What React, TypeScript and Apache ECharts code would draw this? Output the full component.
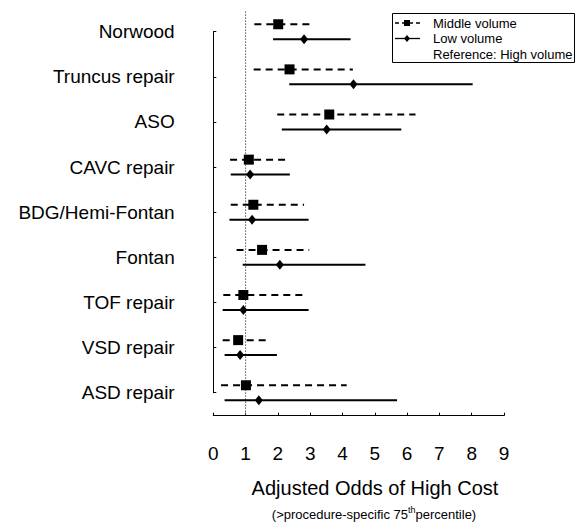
import React, { useEffect, useRef } from "react";
import * as echarts from "echarts";

const categories = [
  "Norwood",
  "Truncus repair",
  "ASO",
  "CAVC repair",
  "BDG/Hemi-Fontan",
  "Fontan",
  "TOF repair",
  "VSD repair",
  "ASD repair",
];
const middleOR = [2.01, 2.36, 3.59, 1.1, 1.24, 1.51, 0.93, 0.77, 1.01];
const middleLo = [1.27, 1.25, 1.98, 0.52, 0.54, 0.72, 0.31, 0.29, 0.24];
const middleHi = [3.12, 4.32, 6.26, 2.29, 2.81, 2.97, 2.81, 1.75, 4.13];
const lowOR = [2.81, 4.34, 3.51, 1.14, 1.2, 2.06, 0.93, 0.83, 1.41];
const lowLo = [1.85, 2.35, 2.12, 0.54, 0.5, 0.91, 0.29, 0.35, 0.35];
const lowHi = [4.25, 8.03, 5.82, 2.37, 2.95, 4.71, 2.95, 1.97, 5.69];
const xTickLabels = ["0", "1", "2", "3", "4", "5", "6", "7", "8", "9"];
const referenceOR = 1;

const ROW_SHIFT = 0.165;
const FONT = "'Liberation Sans', Arial, sans-serif";

export default function App() {
  const ref = useRef<HTMLDivElement>(null);
  useEffect(() => {
    if (!ref.current) return;
    const chart = echarts.init(ref.current, null, { renderer: "svg" });

    const midBars = categories.map((_, i) => [middleLo[i], middleHi[i], i + 1 - ROW_SHIFT]);
    const lowBars = categories.map((_, i) => [lowLo[i], lowHi[i], i + 1 + ROW_SHIFT]);
    const midPts = categories.map((_, i) => [middleOR[i], i + 1 - ROW_SHIFT]);
    const lowPts = categories.map((_, i) => [lowOR[i], i + 1 + ROW_SHIFT]);

    const makeRender = (dash: number[] | null) => (params: any, api: any) => {
      const y = api.value(2);
      const p1 = api.coord([api.value(0), y]);
      const p2 = api.coord([api.value(1), y]);
      return {
        type: "line",
        shape: { x1: p1[0], y1: p1[1], x2: p2[0], y2: p2[1] },
        style: { stroke: "#000", lineWidth: 2, lineDash: dash || undefined, fill: null },
      };
    };

    const option: any = {
      animation: false,
      textStyle: { fontFamily: FONT },
      grid: { left: 213.3, top: 31.7, width: 290.7, height: 361 },
      xAxis: {
        type: "value",
        min: 0,
        max: 9,
        interval: 1,
        offset: 23,
        splitLine: { show: false },
        axisLine: { show: true, lineStyle: { color: "#000", width: 1 } },
        axisTick: { show: true, inside: true, length: 3, lineStyle: { color: "#000" } },
        axisLabel: {
          color: "#000",
          fontSize: 19,
          fontFamily: FONT,
          margin: 28,
          formatter: (v: number) => xTickLabels[Math.round(v)] ?? "",
        },
      },
      yAxis: {
        type: "value",
        inverse: true,
        min: 1,
        max: 9,
        interval: 1,
        offset: 10.6,
        splitLine: { show: false },
        axisLine: { show: true, lineStyle: { color: "#000", width: 1 } },
        axisTick: { show: true, inside: true, length: 3, lineStyle: { color: "#000" } },
        axisLabel: {
          color: "#000",
          fontSize: 19,
          fontFamily: FONT,
          margin: 28,
          formatter: (v: number) => categories[Math.round(v) - 1] ?? "",
        },
      },
      series: [
        {
          type: "line",
          data: [
            [referenceOR, 0.55],
            [referenceOR, 9.5],
          ],
          symbol: "none",
          clip: false,
          lineStyle: { color: "#555", width: 1, type: [1.5, 1.5] },
          silent: true,
          z: 1,
        },
        {
          type: "custom",
          renderItem: makeRender([7, 5]),
          data: midBars,
          encode: { x: [0, 1], y: 2 },
          clip: false,
          z: 2,
        },
        {
          type: "custom",
          renderItem: makeRender(null),
          data: lowBars,
          encode: { x: [0, 1], y: 2 },
          clip: false,
          z: 2,
        },
        {
          type: "scatter",
          data: midPts,
          symbol: "rect",
          symbolSize: 10,
          clip: false,
          itemStyle: { color: "#000", opacity: 1 },
          z: 3,
        },
        {
          type: "scatter",
          data: lowPts,
          symbol: "diamond",
          symbolSize: [8, 10],
          clip: false,
          itemStyle: { color: "#000", opacity: 1 },
          z: 3,
        },
      ],
      graphic: [
        {
          type: "rect",
          shape: { x: 392.5, y: 13.5, width: 182, height: 49 },
          style: { fill: "#fff", stroke: "#000", lineWidth: 1 },
          z: 10,
        },
        {
          type: "line",
          shape: { x1: 395, y1: 23, x2: 420, y2: 23 },
          style: { stroke: "#000", lineWidth: 1.3, lineDash: [4, 3] },
          z: 11,
        },
        {
          type: "rect",
          shape: { x: 404, y: 20, width: 6, height: 6 },
          style: { fill: "#000" },
          z: 11,
        },
        {
          type: "line",
          shape: { x1: 395, y1: 38.5, x2: 420, y2: 38.5 },
          style: { stroke: "#000", lineWidth: 1.3 },
          z: 11,
        },
        {
          type: "polygon",
          shape: { points: [[407, 35], [410, 38.5], [407, 42], [404, 38.5]] },
          style: { fill: "#000" },
          z: 11,
        },
        {
          type: "text",
          x: 433,
          y: 23,
          style: { text: "Middle volume", fontSize: 13, fontFamily: FONT, fill: "#000", verticalAlign: "middle" },
          z: 11,
        },
        {
          type: "text",
          x: 433,
          y: 38.5,
          style: { text: "Low volume", fontSize: 13, fontFamily: FONT, fill: "#000", verticalAlign: "middle" },
          z: 11,
        },
        {
          type: "text",
          x: 433,
          y: 54,
          style: { text: "Reference: High volume", fontSize: 13, fontFamily: FONT, fill: "#000", verticalAlign: "middle" },
          z: 11,
        },
        {
          type: "text",
          x: 375,
          y: 488,
          style: {
            text: "Adjusted Odds of High Cost",
            fontSize: 20,
            fontFamily: FONT,
            fill: "#000",
            align: "center",
            verticalAlign: "middle",
          },
        },
        {
          type: "text",
          x: 374,
          y: 513,
          style: {
            text: "{a|(>procedure-specific 75}{s|th}{a|percentile)}",
            fontFamily: FONT,
            fill: "#000",
            align: "center",
            verticalAlign: "middle",
            rich: {
              a: { fontSize: 13, fontFamily: FONT, fill: "#000", verticalAlign: "bottom", lineHeight: 15 },
              s: { fontSize: 9, fontFamily: FONT, fill: "#000", verticalAlign: "top", lineHeight: 15, padding: [0, 0, 6, 0] },
            },
          },
        },
      ],
    };

    chart.setOption(option);
    return () => chart.dispose();
  }, []);

  return (
    <div
      ref={ref}
      style={{ position: "absolute", left: 0, top: 0, width: 576, height: 523, background: "#fff" }}
    />
  );
}
